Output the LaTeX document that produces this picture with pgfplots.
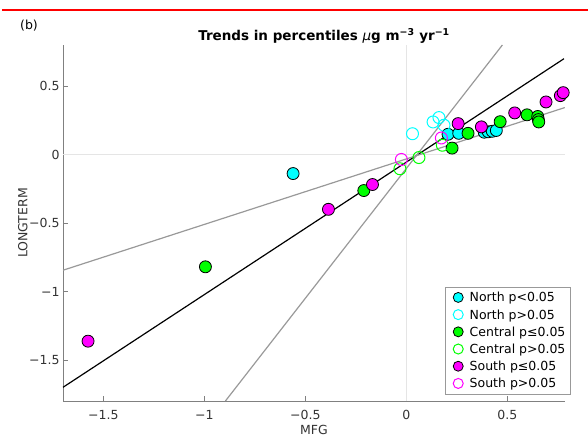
\documentclass[border=0pt]{standalone}
\usepackage{pgfplots}
\pgfplotsset{compat=1.18}
\usepackage{fontspec}
\setmainfont{DejaVu Sans}
\definecolor{lgray}{gray}{0.6}
\definecolor{ggray}{gray}{0.9}
\definecolor{axgray}{gray}{0.5}
\definecolor{mcyan}{rgb}{0,1,1}
\definecolor{mgreen}{rgb}{0,1,0}
\definecolor{mmag}{rgb}{1,0,1}
\begin{document}
\begin{tikzpicture}
\path[use as bounding box] (0pt,0pt) rectangle (588pt,439pt);
\draw[red, line width=2.2pt] (2pt,429pt) -- (588pt,429pt);
\node[font=\fontsize{12.5}{15}\selectfont] at (29pt,413.5pt) {(b)};
\begin{axis}[
  at={(63pt,38pt)}, anchor=south west,
  scale only axis, width=502pt, height=356pt,
  xmin=-1.7, xmax=0.785, ymin=-1.8, ymax=0.8,
  axis lines=left, axis line style={-, axgray, line width=0.8pt},
  tick align=inside, major tick length=5pt,
  tick style={axgray, line width=0.8pt},
  xtick={-1.5,-1,-0.5,0,0.5}, xticklabels={−1.5,−1,−0.5,0,0.5},
  ytick={-1.5,-1,-0.5,0,0.5}, yticklabels={−1.5,−1,−0.5,0,0.5},
  ticklabel style={font=\fontsize{12.5}{15}\selectfont, text=black!80},
  xticklabel style={yshift=-6pt},
  xlabel={MFG}, ylabel={LONGTERM},
  label style={font=\fontsize{12.5}{15}\selectfont, text=black!80},
  xlabel style={at={(axis description cs:0.5,-0.0815)}, anchor=center},
  ylabel style={at={(axis description cs:-0.08,0.5)}, anchor=center, rotate=0},
  title={\bfseries Trends in percentiles {\mdseries\itshape μ}g m\textsuperscript{−3} yr\textsuperscript{−1}},
  title style={at={(axis description cs:0.52,1)}, anchor=base, yshift=-2pt, font=\fontsize{13.5}{16}\selectfont},
  clip=false,
  legend style={at={(axis description cs:0.761,0.321)}, anchor=north west,
    draw=black!40, fill=white, font=\fontsize{12.5}{15}\selectfont,
    row sep=2.2pt, inner sep=3pt,
    nodes={inner sep=1.5pt, text height=10.5pt, text depth=1.5pt}},
  legend cell align=left,
  legend image code/.code={%
    \pgfpathmoveto{\pgfpoint{0pt}{0pt}}\pgfpathlineto{\pgfpoint{20pt}{0pt}}\pgfusepath{discard}%
    \draw[mark repeat=2, mark phase=2, #1, mark size=5pt] plot coordinates {(0pt,0pt) (10pt,0pt) (20pt,0pt)};},
]
% zero reference lines
\draw[ggray, line width=1.5pt] (axis cs:0,-1.8) -- (axis cs:0,0.8);
\draw[ggray, line width=1.5pt] (axis cs:-1.7,0) -- (axis cs:0.785,0);
% fit and reference lines
\addplot[black, line width=1.2pt, forget plot] coordinates {(-1.7,-1.70) (0.78,0.70)};
\addplot[lgray, line width=1.2pt, forget plot] coordinates {(-1.7,-0.845) (0.784,0.343)};
\addplot[lgray, line width=1.2pt, forget plot] coordinates {(-0.896,-1.8) (0.475,0.8)};
% North p<=0.05
\addplot[only marks, mark=*, mark size=6pt, mark options={fill=mcyan, draw=black, line width=0.8pt}]
  coordinates {(-0.561,-0.139) (0.206,0.148) (0.259,0.155) (0.385,0.163) (0.405,0.166) (0.425,0.170) (0.445,0.176)};
\addlegendentry{North p<0.05}
% North p>0.05
\addplot[only marks, mark=o, mark size=6pt, mark options={draw=mcyan, line width=1pt}]
  coordinates {(0.03,0.152) (0.132,0.238) (0.161,0.27) (0.186,0.214)};
\addlegendentry{North p>0.05}
% Central p<=0.05
\addplot[only marks, mark=*, mark size=6pt, mark options={fill=mgreen, draw=black, line width=0.8pt}]
  coordinates {(-0.995,-0.82) (-0.211,-0.263) (0.226,0.047) (0.305,0.155) (0.464,0.240) (0.597,0.290) (0.650,0.278) (0.653,0.255) (0.655,0.238)};
\addlegendentry{Central p≤0.05}
% Central p>0.05
\addplot[only marks, mark=o, mark size=6pt, mark options={draw=mgreen, line width=1pt}]
  coordinates {(-0.032,-0.104) (0.062,-0.022) (0.178,0.068)};
\addlegendentry{Central p>0.05}
% South p<=0.05
\addplot[only marks, mark=*, mark size=6pt, mark options={fill=mmag, draw=black, line width=0.8pt}]
  coordinates {(-1.576,-1.363) (-0.386,-0.40) (-0.168,-0.219) (0.256,0.226) (0.371,0.202) (0.536,0.304) (0.691,0.384) (0.762,0.430) (0.776,0.452)};
\addlegendentry{South p≤0.05}
% South p>0.05
\addplot[only marks, mark=o, mark size=6pt, mark options={draw=mmag, line width=1pt}]
  coordinates {(-0.025,-0.036) (0.173,0.121)};
\addlegendentry{South p>0.05}
\end{axis}
\end{tikzpicture}
\end{document}
